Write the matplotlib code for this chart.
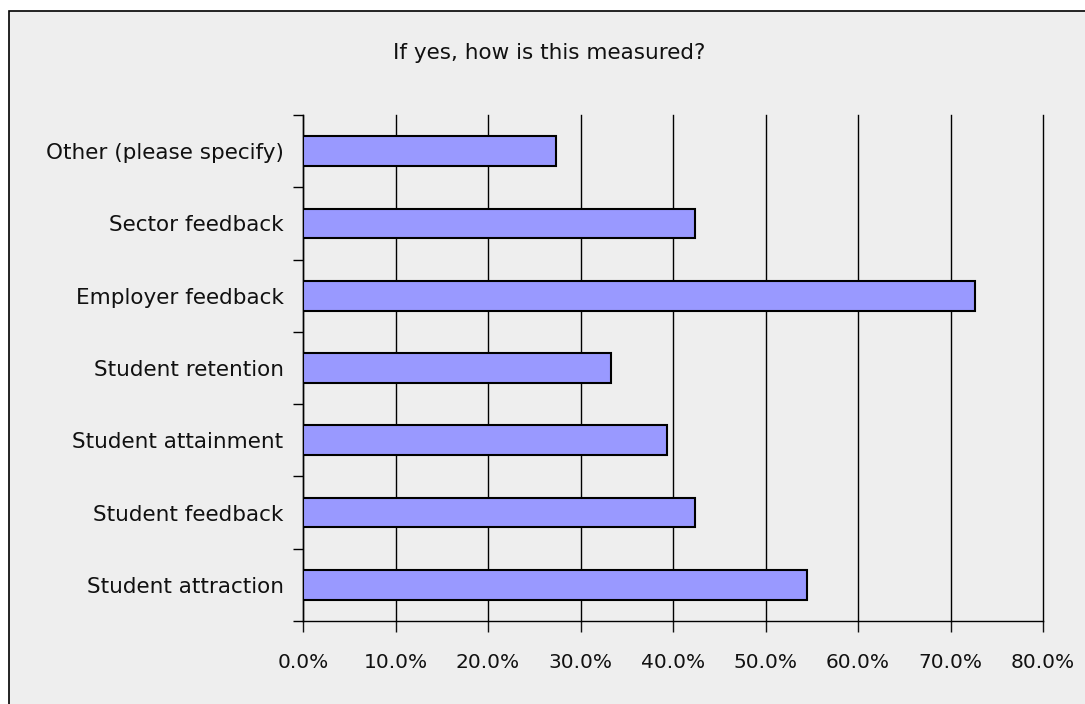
import matplotlib.pyplot as plt
from matplotlib.patches import Rectangle
from matplotlib.ticker import FuncFormatter, FixedLocator

plt.rcParams['font.family'] = ['DejaVu Sans']

categories = ['Student attraction', 'Student feedback', 'Student attainment',
              'Student retention', 'Employer feedback', 'Sector feedback',
              'Other (please specify)']
percent = [54.5, 42.4, 39.4, 33.3, 72.7, 42.4, 27.3]
title = 'If yes, how is this measured?'

W, H = 1085, 704
fig = plt.figure(figsize=(W / 100, H / 100), dpi=100)
fig.patch.set_facecolor('white')

# chart area frame (left/top edges visible)
fig.patches.append(Rectangle((9 / W, -0.1), 1.2, 1 - 11 / H + 0.1,
                             transform=fig.transFigure, facecolor='#EEEEEE',
                             edgecolor='black', linewidth=1.2, zorder=-5))

ax = fig.add_axes([303 / W, 1 - 621 / H, 740 / W, 506 / H])
ax.set_facecolor('none')
ax.set_zorder(2)

y = range(len(categories))
ax.barh(y, percent, height=0.41, color='#9999FF', edgecolor='black',
        linewidth=1.5, zorder=3)

ax.set_xlim(0, 80)
ax.set_ylim(-0.5, len(categories) - 0.5)
ax.set_xticks(range(0, 81, 10))
ax.xaxis.set_major_formatter(FuncFormatter(lambda v, p: f'{v:.1f}%'))
ax.xaxis.grid(True, color='black', linewidth=1.0, zorder=1)
for gl in ax.get_xgridlines():
    gl.set_clip_on(False)

ax.set_yticks(list(y))
ax.set_yticklabels(categories, fontsize=15.5)
ax.tick_params(axis='y', which='major', length=0, pad=14)
ax.yaxis.set_minor_locator(FixedLocator([i - 0.5 for i in range(len(categories) + 1)]))
ax.tick_params(axis='y', which='minor', length=7, width=1.0)
ax.tick_params(axis='x', length=8, width=1.0, pad=15, labelsize=14.5)
ax.tick_params(colors='#111111')

for side in ['top', 'right']:
    ax.spines[side].set_visible(False)
for side in ['left', 'bottom']:
    ax.spines[side].set_linewidth(1.0)

fig.text(549 / W, 1 - 53 / H, title, ha='center', va='center',
         fontsize=15.5, color='#111111')

fig.savefig('out.png', dpi=100)
